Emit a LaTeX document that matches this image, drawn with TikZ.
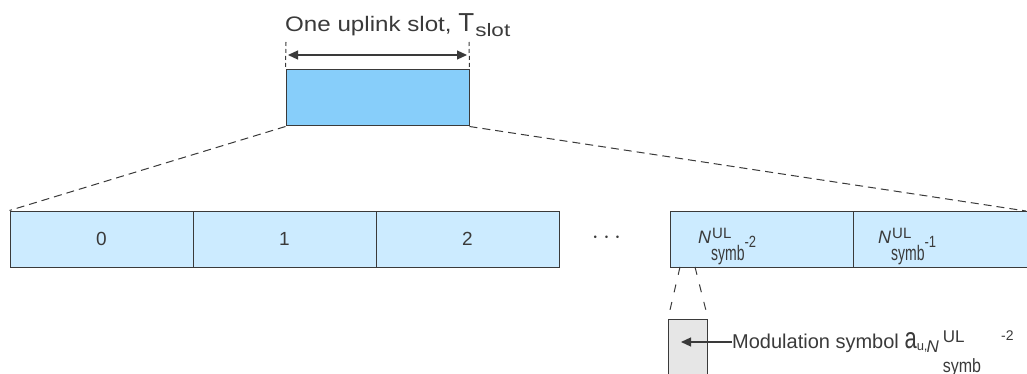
\documentclass[tikz,border=0pt]{standalone}
\usepackage{fontspec}
\setmainfont{Liberation Sans}
\usetikzlibrary{positioning, arrows.meta}

\definecolor{linegray}{HTML}{3A3A3A}
\definecolor{slotblue}{HTML}{87CEFA}
\definecolor{symbblue}{HTML}{CCEBFF}
\definecolor{modgray}{HTML}{E6E6E6}

\tikzset{
    box/.style={rectangle, draw=linegray, line width=1pt, inner sep=0pt},
    symbox/.style={box, fill=symbblue, minimum width=183pt, minimum height=56pt},
    lbl/.style={inner sep=0pt, text=linegray, font=\fontsize{19}{21}\selectfont},
    zoomline/.style={draw=linegray, line width=1pt, dash pattern=on 8pt off 5pt},
    tip/.style={-{Triangle[length=10pt, width=9pt]}, draw=linegray, line width=1.2pt}
}

\newcommand{\fsz}[1]{\fontsize{#1}{#1}\selectfont}
% N^UL_symb with an index after it
\newcommand{\nulsymb}[1]{{\fsz{18}\itshape N}\kern1pt\makebox[0pt][l]{\raisebox{5pt}{\fsz{15}UL}}\kern-1pt\raisebox{-17pt}{\scalebox{1}[1.5]{\fsz{14}symb}}\raisebox{-4pt}{\scalebox{1}[1.25]{\fsz{13}#1}}}

\begin{document}
\begin{tikzpicture}[x=1pt, y=-1pt]

    \useasboundingbox (0,0) rectangle (1027,374);

    % one uplink slot
    \node[box, fill=slotblue, minimum width=183pt, minimum height=56pt] (slot) at (377.5,98) {};
    \coordinate (tl) at (286,42);
    \coordinate (tr) at (469,42);
    \draw[linegray, line width=1pt, dash pattern=on 4pt off 3pt] (tl) -- (slot.north west);
    \draw[linegray, line width=1pt, dash pattern=on 4pt off 3pt] (tr) -- (slot.north east);
    \draw[tip, {Triangle[length=10pt, width=9pt]}-{Triangle[length=10pt, width=9pt]}] (288,55) -- (467,55);
    \node[lbl, anchor=base west] (title) at (285,32)
        {\scalebox{1.15}[1]{\fsz{21}One uplink slot, }{\fsz{26}T}\kern1pt\raisebox{-5pt}{\scalebox{1.5}[1.2]{\fsz{15}slot}}};

    % symbols of the slot
    \node[symbox] (s0) at (101.5,239) {};
    \node[symbox] (s1) at (284.5,239) {};
    \node[symbox] (s2) at (467.5,239) {};
    \node[symbox] (s3) at (761.5,239) {};
    \node[symbox] (s4) at (944.5,239) {};
    \node[lbl] (l0) at (s0.center) {0};
    \node[lbl] (l1) at (s1.center) {1};
    \node[lbl] (l2) at (s2.center) {2};
    \node[lbl, anchor=base west] (l3) at (698,243) {\nulsymb{-2}};
    \node[lbl, anchor=base west] (l4) at (878,243) {\nulsymb{-1}};

    \node[lbl, font=\fsz{28}] (dots) at (606.5,238) {$\cdots$};

    \coordinate (fr) at (1026,211);
    \draw[zoomline] (slot.south west) -- (s0.north west);
    \draw[zoomline] (slot.south east) -- (fr);

    % modulation symbol
    \node[box, fill=modgray, minimum width=39pt, minimum height=60pt] (mod) at (688,349) {};
    \coordinate (ml) at (680,267);
    \coordinate (mr) at (695,267);
    \draw[zoomline, dash pattern=on 8pt off 10pt] (ml) -- (mod.north west);
    \draw[zoomline, dash pattern=on 8pt off 10pt] (mr) -- (mod.north east);

    \node[lbl, anchor=base west, font=\fsz{20}] (modtext) at (732,348)
        {Modulation symbol \scalebox{1}[1.35]{\fsz{22}a}\raisebox{-2pt}{\fsz{13}u,}\kern-1pt\raisebox{-4pt}{\fsz{17}\itshape N}\kern4pt\makebox[0pt][l]{\raisebox{6pt}{\fsz{17}UL}}\raisebox{-24pt}{\scalebox{1}[1.2]{\fsz{16}symb}}\kern20pt\raisebox{8pt}{\fsz{14}-2}};
    \draw[tip] (732,342) -- (681,342);

\end{tikzpicture}
\end{document}
